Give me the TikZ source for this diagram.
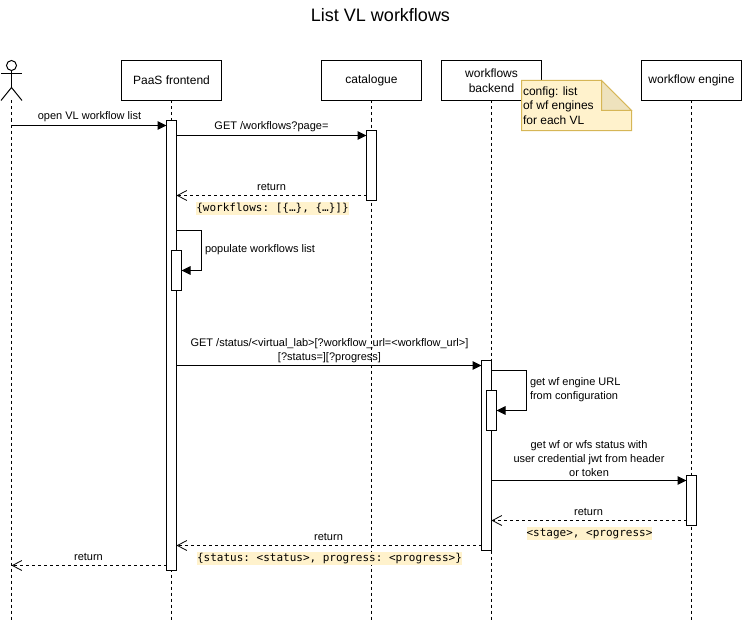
\documentclass[tikz,border=0pt]{standalone}
\usepackage{fontspec}
\setmainfont{Liberation Sans}
\setmonofont{DejaVu Sans Mono}
\usetikzlibrary{arrows.meta}
\definecolor{notefill}{HTML}{FFF2CC}
\definecolor{notedraw}{HTML}{D6B656}
\definecolor{notefold}{HTML}{EEE2BD}
\tikzset{
  party/.style={draw,fill=white,minimum width=100pt,minimum height=40pt,inner sep=0pt,align=center,font=\fontsize{12}{15}\selectfont},
  bar/.style={draw,fill=white,minimum width=10pt,inner sep=0pt},
  life/.style={dash pattern=on 3pt off 3pt},
  call/.style={-{Triangle[length=9pt,width=8.5pt]}},
  reply/.style={dash pattern=on 3pt off 3pt,-{Straight Barb[length=9.5pt,width=10pt,line width=.8pt]}},
  payload/.style={fill=notefill,inner xsep=0pt,inner ysep=0pt,text height=9.5pt,text depth=3.5pt,font=\fontsize{11}{13}\ttfamily},
  lbl/.style={inner sep=0pt,align=center},
}
\begin{document}
\begin{tikzpicture}[x=1pt,y=-1pt,line width=1pt,outer sep=0pt,font=\fontsize{11}{13.6}\selectfont]
\useasboundingbox (0,0) rectangle (754,623);
\node[lbl,font=\fontsize{18}{20}\selectfont] (title) at (380.5,15) {List VL workflows};
% actor
\draw (11.5,65.5) circle (5);
\draw (1,73.5) -- (22,73.5);
\draw (11.5,70.5) -- (11.5,87.5);
\draw (1,100.5) -- (11.5,87.5) -- (22,100.5);
\coordinate (actor) at (11.5,100.5);
% parties
\node[party] (paas) at (171.5,80.5) {PaaS frontend};
\node[party] (cat) at (371.5,80.5) {catalogue};
\node[party] (back) at (491.5,80.5) {workflows\\backend};
\node[party] (engine) at (691.5,80.5) {workflow engine};
% lifelines
\coordinate (bottom) at (0,620.5);
\draw[life] (actor) -- (actor |- bottom);
\draw[life] (paas.south) -- (paas.south |- bottom);
\draw[life] (cat.south) -- (cat.south |- bottom);
\draw[life] (back.south) -- (back.south |- bottom);
\draw[life] (engine.south) -- (engine.south |- bottom);
% activations
\node[bar,minimum height=450pt] (paasbar) at (171.5,345.5) {};
\node[bar,minimum height=70pt] (catbar) at (371.5,165.5) {};
\node[bar,minimum height=40pt] (paasinner) at (176.5,270.5) {};
\node[bar,minimum height=190pt] (backbar) at (486.5,455.5) {};
\node[bar,minimum height=40pt] (backinner) at (491.5,410.5) {};
\node[bar,minimum height=50pt] (enginebar) at (691.5,500.5) {};
% message levels
\coordinate (open) at (0,125.5);
\coordinate (get) at (0,135.5);
\coordinate (ret) at (0,195.5);
\coordinate (status) at (0,365.5);
\coordinate (wf) at (0,480.5);
\coordinate (wfret) at (0,520.5);
\coordinate (backret) at (0,545.5);
\coordinate (paasret) at (0,565.5);
\coordinate (popturn) at (201.5,230.5);
\coordinate (urlturn) at (526.5,370.5);
% messages
\draw[call] (actor |- open) -- (paasbar.west |- open);
\draw[call] (paasbar.east |- get) -- (catbar.west |- get);
\draw[reply] (catbar.west |- ret) -- (paasbar.east |- ret);
\draw[call] (paasbar.east |- popturn) -- (popturn) -- (popturn |- paasinner.east) -- (paasinner.east);
\draw[call] (paasbar.east |- status) -- (backbar.west |- status);
\draw[call] (backbar.east |- urlturn) -- (urlturn) -- (urlturn |- backinner.east) -- (backinner.east);
\draw[call] (backbar.east |- wf) -- (enginebar.west |- wf);
\draw[reply] (enginebar.west |- wfret) -- (backbar.east |- wfret);
\draw[reply] (backbar.west |- backret) -- (paasbar.east |- backret);
\draw[reply] (paasbar.west |- paasret) -- (actor |- paasret);
% labels
\node[lbl] (openlbl) at (89.5,117) {open VL workflow list};
\node[lbl] (getlbl) at (271.5,127) {GET /workflows?page=};
\node[lbl] (retlbl) at (271.5,187) {return};
\node[payload] (retdata) at (272.5,208.5) {\{workflows: [\{…\}, \{…\}]\}};
\node[lbl,anchor=west] (poplbl) at (205,249.5) {populate workflows list};
\node[lbl] (statuslbl) at (329.5,350.5) {GET /status/<virtual\_lab>[?workflow\_url=<workflow\_url>]\\{[}?status=][?progress]};
\node[lbl,align=left,anchor=west] (urllbl) at (530,389.5) {get wf engine URL\\from configuration};
\node[lbl] (wflbl) at (589,458.5) {get wf or wfs status with\\user credential jwt from header\\or token};
\node[lbl] (wfretlbl) at (588.5,512) {return};
\node[payload] (wfdata) at (589.5,533.5) {<stage>, <progress>};
\node[lbl] (backretlbl) at (328.5,536.5) {return};
\node[payload] (backdata) at (329.5,558.5) {\{status: <status>, progress: <progress>\}};
\node[lbl] (paasretlbl) at (88.5,557) {return};
% note
\draw[notedraw,fill=notefill] (521.5,80.5) -- (601.5,80.5) -- (631.5,110.5) -- (631.5,130.5) -- (521.5,130.5) -- cycle;
\draw[notedraw,fill=notefold] (601.5,80.5) -- (601.5,110.5) -- (631.5,110.5) -- cycle;
\node[lbl,align=left,anchor=west,font=\fontsize{12}{14.5}\selectfont] (notelbl) at (523,105.5) {config: list\\of wf engines\\for each VL};
\end{tikzpicture}
\end{document}
